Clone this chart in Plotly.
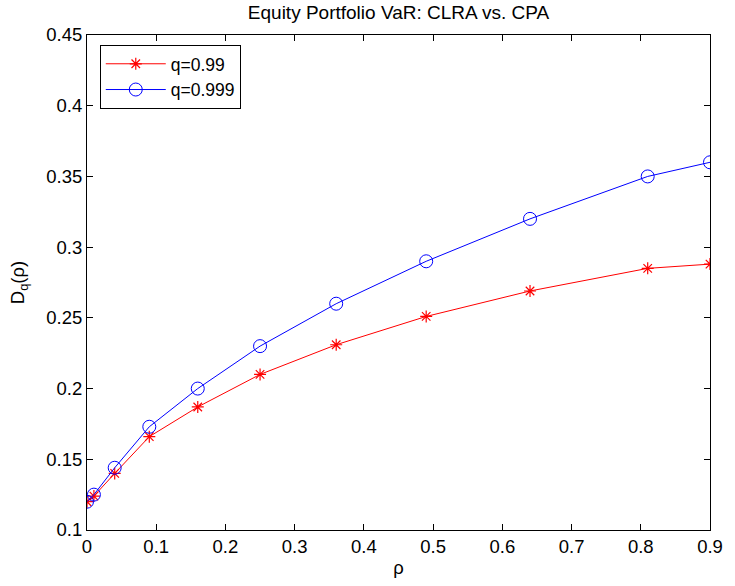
import plotly.graph_objects as go

rho = [0, 0.01, 0.04, 0.09, 0.16, 0.25, 0.36, 0.49, 0.64, 0.81, 0.9]
d_q99 = [0.120, 0.124, 0.140, 0.166, 0.187, 0.210, 0.231, 0.251, 0.269, 0.285, 0.288]
d_q999 = [0.120, 0.125, 0.144, 0.173, 0.200, 0.230, 0.260, 0.290, 0.320, 0.350, 0.360]

x_ticks = [0, 0.1, 0.2, 0.3, 0.4, 0.5, 0.6, 0.7, 0.8, 0.9]
x_ticklabels = ["0", "0.1", "0.2", "0.3", "0.4", "0.5", "0.6", "0.7", "0.8", "0.9"]
y_ticks = [0.1, 0.15, 0.2, 0.25, 0.3, 0.35, 0.4, 0.45]
y_ticklabels = ["0.1", "0.15", "0.2", "0.25", "0.3", "0.35", "0.4", "0.45"]

FONT = "Liberation Sans, Arial, Helvetica, sans-serif"

fig = go.Figure()
fig.add_trace(go.Scatter(
    x=rho, y=d_q99, mode="lines+markers", name="q=0.99",
    line=dict(color="#ff0000", width=1),
    marker=dict(symbol="asterisk-open", size=10, color="#ff0000",
                line=dict(color="#ff0000", width=1.2)),
))
fig.add_trace(go.Scatter(
    x=rho, y=d_q999, mode="lines+markers", name="q=0.999",
    line=dict(color="#0000ff", width=1),
    marker=dict(symbol="circle-open", size=13, color="#0000ff",
                line=dict(color="#0000ff", width=1)),
))

axis_common = dict(
    showline=True, linecolor="black", linewidth=1, mirror="allticks",
    ticks="inside", ticklen=6, tickcolor="black", tickwidth=1,
    showgrid=False, zeroline=False,
    tickfont=dict(family=FONT, size=18.5, color="black"),
)

fig.update_layout(
    width=735, height=586,
    margin=dict(l=87, r=13, t=35, b=51),
    paper_bgcolor="white", plot_bgcolor="white",
    title=dict(text="Equity Portfolio VaR: CLRA vs. CPA", xref="paper", x=0.5,
               xanchor="center", y=0.979, yanchor="middle",
               font=dict(family=FONT, size=19, color="black")),
    xaxis=dict(range=[0, 0.9], tickvals=x_ticks, ticktext=x_ticklabels,
               title=dict(text="ρ", standoff=4, font=dict(family=FONT, size=18.5, color="black")),
               **axis_common),
    yaxis=dict(range=[0.1, 0.45], tickvals=y_ticks, ticktext=y_ticklabels,
               title=dict(text="D<sub>q</sub>(ρ)", standoff=16,
                          font=dict(family=FONT, size=18.5, color="black")),
               **axis_common),
    legend=dict(x=0.0205, y=0.98, xanchor="left", yanchor="top",
                bordercolor="black", borderwidth=1, bgcolor="white",
                font=dict(family=FONT, size=17.5, color="black"),
                itemwidth=60, tracegroupgap=0),
    showlegend=True,
)

fig.write_html("out.html")
